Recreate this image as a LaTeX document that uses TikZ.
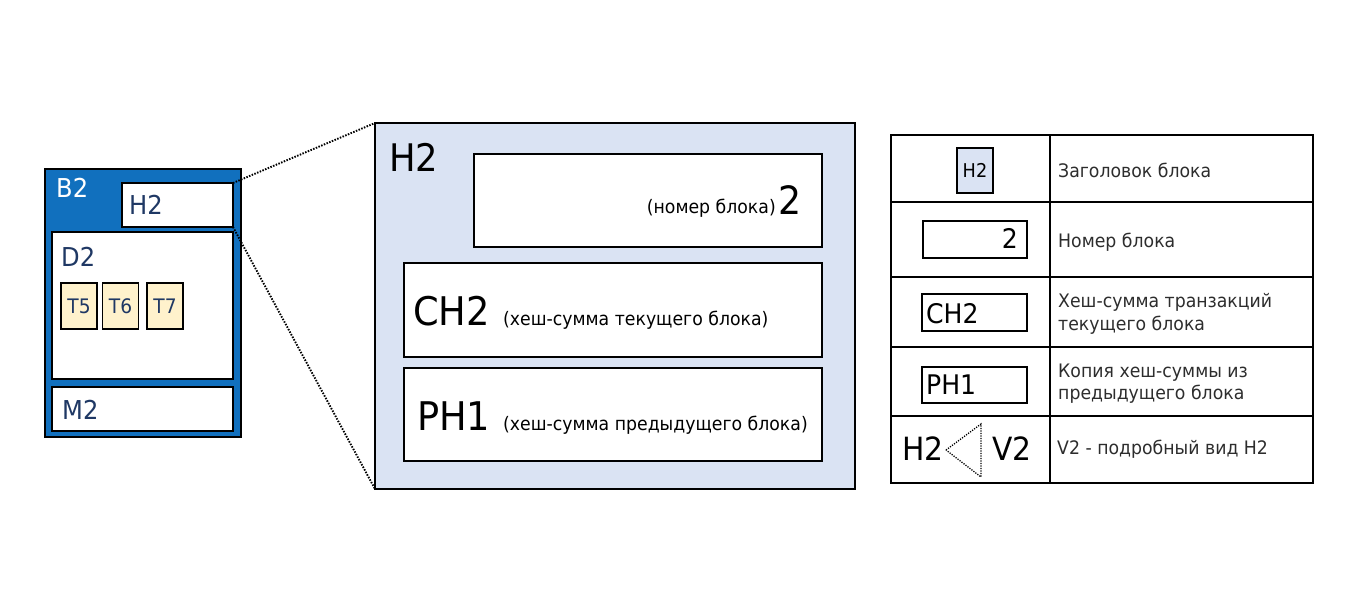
\documentclass[tikz,border=0pt]{standalone}
\usepackage{fontspec}
\setmainfont{DejaVu Sans}[FakeStretch=0.93]
\newcommand\myfs[1]{\fontsize{#1}{#1}\selectfont}
\definecolor{blockblue}{RGB}{17,112,190}
\definecolor{navy}{RGB}{31,56,100}
\definecolor{lightblue}{RGB}{218,227,243}
\definecolor{lightyellow}{RGB}{255,242,204}
\definecolor{legtext}{RGB}{45,45,45}
\begin{document}
\begin{tikzpicture}[x=1pt,y=-1pt,
  box/.style={draw=black,line width=1.8pt,fill=white,inner sep=0pt,outer sep=0pt},
  tbox/.style={box,fill=lightyellow,minimum width=36pt,minimum height=46pt,text=navy,font=\myfs{20}},
  lbl/.style={inner sep=0pt,anchor=base west},
  conn/.style={line width=1.9pt,dash pattern=on 1.5pt off 1.4pt},
  grid/.style={line width=1.5pt}]
\useasboundingbox (0,0) rectangle (1362,612);
% left block B2
\node[box,fill=blockblue,minimum width=196pt,minimum height=268pt] (b2) at (143,303) {};
\node[box,minimum width=111pt,minimum height=44pt] (h2s) at (177.5,205) {};
\node[box,minimum width=181pt,minimum height=147pt] (d2) at (142.5,305.5) {};
\node[box,minimum width=181pt,minimum height=44pt] (m2) at (142.5,409) {};
\node[tbox] (t5) at (79,306) {T5};
\node[tbox] (t6) at (120.5,306) {T6};
\node[tbox] (t7) at (165,306) {T7};
\node[lbl,text=white,font=\myfs{26}] (b2l) at (56,198) {B2};
\node[lbl,text=navy,font=\myfs{26}] (h2l) at (129,215) {H2};
\node[lbl,text=navy,font=\myfs{26}] (d2l) at (61,266) {D2};
\node[lbl,text=navy,font=\myfs{26}] (m2l) at (62,419) {M2};
% detailed view V2
\node[box,fill=lightblue,minimum width=480pt,minimum height=366pt] (v2) at (615,306) {};
\node[box,minimum width=348pt,minimum height=93pt] (num) at (648,200.5) {};
\node[box,minimum width=418pt,minimum height=94pt] (ch) at (613,310) {};
\node[box,minimum width=418pt,minimum height=93pt] (ph) at (613,414.5) {};
\node[lbl,font=\myfs{38}] (bigh2) at (389,172) {H2};
\node[lbl,anchor=base east,font=\myfs{39}] (numv) at (802,215) {2};
\node[lbl,anchor=base east,font=\myfs{18.6}] (numt) at (776,214) {(номер блока)};
\node[lbl,font=\myfs{39.5}] (chl) at (413,325) {CH2};
\node[lbl,font=\myfs{18.6}] (cht) at (503,325) {(хеш-сумма текущего блока)};
\node[lbl,font=\myfs{39.5}] (phl) at (417,430) {PH1};
\node[lbl,font=\myfs{18.6}] (pht) at (503,430) {(хеш-сумма предыдущего блока)};
% zoom connectors
\draw[conn] (h2s.north east) -- (v2.north west);
\draw[conn] (h2s.south east) -- (v2.south west);
% legend table
\draw[grid] (891,135) rectangle (1313,483);
\draw[grid] (1050,135) -- (1050,483);
\foreach \yy in {202,277,347,416} \draw[grid] (891,\yy) -- (1313,\yy);
\node[box,fill=lightblue,minimum width=36pt,minimum height=45pt,font=\myfs{19}] (lh2) at (975,170.5) {H2};
\node[lbl,text=legtext,font=\myfs{18.6}] (lt1) at (1058,178) {Заголовок блока};
\node[box,minimum width=104pt,minimum height=37pt] (lnum) at (975,239.5) {};
\node[lbl,anchor=base east,font=\myfs{27}] (lnumv) at (1018,249) {2};
\node[lbl,text=legtext,font=\myfs{18.6}] (lt2) at (1058,248) {Номер блока};
\node[box,minimum width=105pt,minimum height=37pt] (lch) at (974.5,312.5) {};
\node[lbl,font=\myfs{27}] (lchl) at (926,323) {CH2};
\node[lbl,text=legtext,font=\myfs{18.6}] (lt3a) at (1058,307) {Хеш-сумма транзакций};
\node[lbl,text=legtext,font=\myfs{18.6}] (lt3b) at (1058,330) {текущего блока};
\node[box,minimum width=105pt,minimum height=36pt] (lph) at (974.5,385) {};
\node[lbl,font=\myfs{27}] (lphl) at (926,394) {PH1};
\node[lbl,text=legtext,font=\myfs{18.6}] (lt4a) at (1058,377) {Копия хеш-суммы из};
\node[lbl,text=legtext,font=\myfs{18.6}] (lt4b) at (1058,399) {предыдущего блока};
\node[lbl,font=\myfs{32}] (lh2b) at (902,460) {H2};
\node[lbl,font=\myfs{32}] (lv2) at (992,460) {V2};
\coordinate (ta) at (946,450);
\coordinate (tb) at (981,424);
\coordinate (tc) at (981,477);
\draw[line width=1.3pt,dash pattern=on 1.2pt off 1.3pt] (ta) -- (tb) -- (tc) -- cycle;
\node[lbl,text=legtext,font=\myfs{18.6}] (lt5) at (1057,454) {V2 - подробный вид H2};
\end{tikzpicture}
\end{document}
